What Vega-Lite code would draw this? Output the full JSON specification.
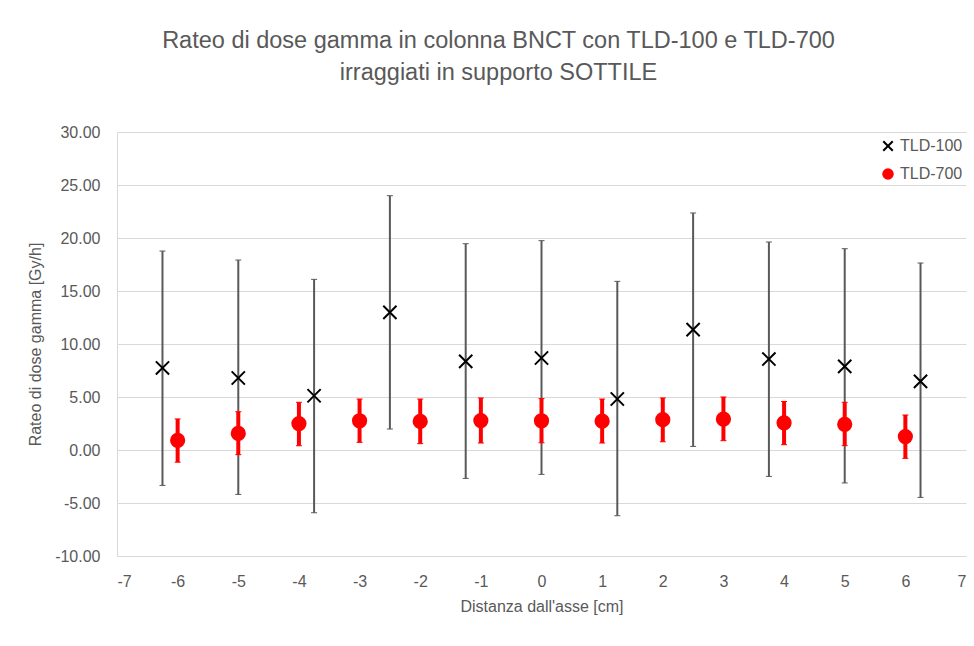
{
  "$schema": "https://vega.github.io/schema/vega-lite/v6.json",
  "width": 849,
  "height": 424,
  "autosize": {"type": "none"},
  "padding": {"left": 117, "top": 132, "right": 8, "bottom": 90},
  "background": "white",
  "title": {
    "text": ["Rateo di dose gamma in colonna BNCT con TLD-100  e TLD-700", "irraggiati in supporto SOTTILE"],
    "anchor": "middle",
    "dx": -43,
    "offset": 40,
    "fontSize": 23.5,
    "lineHeight": 32,
    "fontWeight": "normal",
    "color": "#595959"
  },
  "config": {
    "font": "Liberation Sans",
    "view": {"stroke": null},
    "axis": {
      "labelColor": "#595959",
      "titleColor": "#595959",
      "labelFontSize": 16,
      "titleFontSize": 16,
      "titleFontWeight": "normal",
      "gridColor": "#d9d9d9",
      "gridWidth": 1,
      "domainColor": "#d9d9d9",
      "domainWidth": 1,
      "ticks": false
    },
    "legend": {
      "labelColor": "#595959",
      "labelFontSize": 16
    }
  },
  "data": {
    "values": [
      {"x": -6.25, "serie": "TLD-100", "v": 7.74, "lo": -3.34, "hi": 18.77},
      {"x": -5, "serie": "TLD-100", "v": 6.79, "lo": -4.19, "hi": 17.92},
      {"x": -3.75, "serie": "TLD-100", "v": 5.12, "lo": -5.92, "hi": 16.1},
      {"x": -2.5, "serie": "TLD-100", "v": 12.98, "lo": 1.98, "hi": 23.99},
      {"x": -1.25, "serie": "TLD-100", "v": 8.36, "lo": -2.68, "hi": 19.46},
      {"x": 0, "serie": "TLD-100", "v": 8.68, "lo": -2.3, "hi": 19.75},
      {"x": 1.25, "serie": "TLD-100", "v": 4.81, "lo": -6.2, "hi": 15.91},
      {"x": 2.5, "serie": "TLD-100", "v": 11.35, "lo": 0.34, "hi": 22.36},
      {"x": 3.75, "serie": "TLD-100", "v": 8.58, "lo": -2.49, "hi": 19.62},
      {"x": 5, "serie": "TLD-100", "v": 7.89, "lo": -3.11, "hi": 18.99},
      {"x": 6.25, "serie": "TLD-100", "v": 6.47, "lo": -4.47, "hi": 17.64},
      {"x": -6, "serie": "TLD-700", "v": 0.91, "lo": -1.15, "hi": 2.93},
      {"x": -5, "serie": "TLD-700", "v": 1.56, "lo": -0.44, "hi": 3.61},
      {"x": -4, "serie": "TLD-700", "v": 2.49, "lo": 0.4, "hi": 4.5},
      {"x": -3, "serie": "TLD-700", "v": 2.76, "lo": 0.72, "hi": 4.81},
      {"x": -2, "serie": "TLD-700", "v": 2.7, "lo": 0.6, "hi": 4.81},
      {"x": -1, "serie": "TLD-700", "v": 2.78, "lo": 0.66, "hi": 4.91},
      {"x": 0, "serie": "TLD-700", "v": 2.76, "lo": 0.68, "hi": 4.85},
      {"x": 1, "serie": "TLD-700", "v": 2.72, "lo": 0.66, "hi": 4.81},
      {"x": 2, "serie": "TLD-700", "v": 2.86, "lo": 0.78, "hi": 4.91},
      {"x": 3, "serie": "TLD-700", "v": 2.92, "lo": 0.88, "hi": 5.0},
      {"x": 4, "serie": "TLD-700", "v": 2.56, "lo": 0.5, "hi": 4.58},
      {"x": 5, "serie": "TLD-700", "v": 2.42, "lo": 0.41, "hi": 4.5},
      {"x": 6, "serie": "TLD-700", "v": 1.27, "lo": -0.79, "hi": 3.3}
    ]
  },
  "encoding": {
    "x": {
      "field": "x",
      "type": "quantitative",
      "scale": {"domain": [-7, 7], "nice": false, "zero": false},
      "axis": {
        "title": "Distanza dall'asse [cm]",
        "values": [-7, -6, -5, -4, -3, -2, -1, 0, 1, 2, 3, 4, 5, 6, 7],
        "labelExpr": "replace(datum.label, '\u2212', '-')",
        "grid": false,
        "labelPadding": 17,
        "titlePadding": 9
      }
    }
  },
  "layer": [
    {
      "mark": {"type": "rule"},
      "encoding": {
        "y": {
          "field": "lo",
          "type": "quantitative",
          "scale": {"domain": [-10, 30], "nice": false},
          "axis": {
            "title": "Rateo di dose gamma [Gy/h]",
            "values": [-10, -5, 0, 5, 10, 15, 20, 25, 30],
            "format": ".2f",
            "labelExpr": "replace(datum.label, '\u2212', '-')",
            "grid": true,
            "labelPadding": 17,
            "titlePadding": 11
          }
        },
        "y2": {"field": "hi"},
        "color": {"condition": {"test": "datum.serie === 'TLD-100'", "value": "#595959"}, "value": "#ff0000"},
        "strokeWidth": {"condition": {"test": "datum.serie === 'TLD-100'", "value": 2}, "value": 4}
      }
    },
    {
      "mark": {"type": "tick", "orient": "horizontal", "size": 6, "opacity": 1},
      "encoding": {
        "y": {"field": "lo", "type": "quantitative"},
        "color": {"condition": {"test": "datum.serie === 'TLD-100'", "value": "#595959"}, "value": "#ff0000"},
        "strokeWidth": {"condition": {"test": "datum.serie === 'TLD-100'", "value": 2}, "value": 3}
      }
    },
    {
      "mark": {"type": "tick", "orient": "horizontal", "size": 6, "opacity": 1},
      "encoding": {
        "y": {"field": "hi", "type": "quantitative"},
        "color": {"condition": {"test": "datum.serie === 'TLD-100'", "value": "#595959"}, "value": "#ff0000"},
        "strokeWidth": {"condition": {"test": "datum.serie === 'TLD-100'", "value": 2}, "value": 3}
      }
    },
    {
      "mark": {"type": "point", "filled": true, "strokeWidth": 2, "opacity": 1, "size": 175},
      "encoding": {
        "y": {"field": "v", "type": "quantitative"},
        "shape": {
          "field": "serie",
          "type": "nominal",
          "scale": {"domain": ["TLD-100", "TLD-700"], "range": ["M-1,-1L1,1M-1,1L1,-1", "circle"]},
          "legend": {
            "title": null,
            "orient": "none",
            "legendX": 763,
            "legendY": 6,
            "padding": 0,
            "rowPadding": 10,
            "labelOffset": 4,
            "symbolSize": 90,
            "symbolStrokeWidth": 2
          }
        },
        "color": {"field": "serie", "type": "nominal", "scale": {"domain": ["TLD-100", "TLD-700"], "range": ["#000000", "#ff0000"]}},
        "stroke": {"field": "serie", "type": "nominal", "scale": {"domain": ["TLD-100", "TLD-700"], "range": ["#000000", "#ff0000"]}}
      }
    }
  ]
}
